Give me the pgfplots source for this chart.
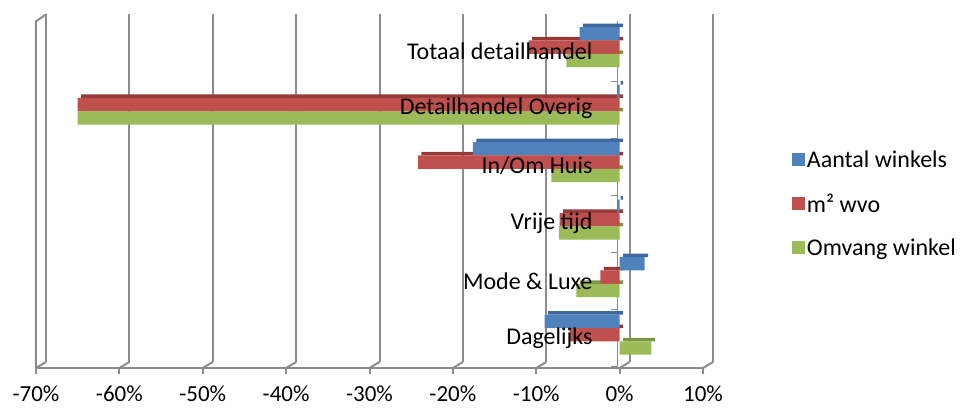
\documentclass[border=0pt]{standalone}
\usepackage{pgfplots}
\pgfplotsset{compat=1.18}
\usepackage{fontspec}
\setmainfont{Carlito}
\usetikzlibrary{calc}

\definecolor{cblue}{RGB}{79,129,189}
\definecolor{cred}{RGB}{192,80,77}
\definecolor{cgreen}{RGB}{155,187,89}
\definecolor{cbluetop}{RGB}{62,104,158}
\definecolor{credtop}{RGB}{150,58,56}
\definecolor{cgreentop}{RGB}{122,150,66}
\definecolor{gridgray}{RGB}{140,140,140}

\tikzset{
  catlab/.style={anchor=east, inner sep=0pt, font=\fontsize{24}{28}\selectfont},
  ticklab/.style={anchor=north, inner sep=0pt, font=\fontsize{23}{27}\selectfont},
}

\begin{document}
\begin{tikzpicture}
\begin{axis}[
  scale only axis,
  width=667pt, height=349.6pt,
  xmin=-70, xmax=10, ymin=-0.58, ymax=5.5,
  xbar, bar width=13.3pt,
  axis line style={draw=none},
  clip=false,
  xtick=\empty, ytick=\empty,
  legend style={at={(1.133,0.47)}, anchor=west, draw=none, fill=none,
    inner sep=0pt, font=\fontsize{24}{28}\selectfont, row sep=21pt},
  legend cell align=left,
  legend image code/.code={\fill[#1] (0pt,-6.5pt) rectangle (13pt,6.5pt);},
]
\coordinate (bl) at (rel axis cs:0,0);
% back wall grid and floor (3D look), value labels below
\pgfplotsinvokeforeach{-70,-60,...,10}{
  \draw[gridgray, line width=2pt] ([shift={(10pt,6pt)}]axis cs:#1,-0.58) -- ([shift={(10pt,4pt)}]axis cs:#1,5.5);
  \draw[gridgray, line width=2pt] (axis cs:#1,-0.58) -- ([shift={(10pt,6pt)}]axis cs:#1,-0.58);
  \draw[gridgray, line width=2pt] (axis cs:#1,-0.58) -- ([shift={(0pt,-6pt)}]axis cs:#1,-0.58);
  \node[ticklab] at ([yshift=-18pt]axis cs:#1,-0.58) {#1\%};
}
\draw[gridgray, line width=2pt] (axis cs:-70,-0.58) -- (axis cs:10,-0.58);
\draw[gridgray, line width=2pt] (axis cs:-70,-0.58) -- ([shift={(0pt,-3pt)}]axis cs:-70,5.5) -- ([shift={(10pt,4pt)}]axis cs:-70,5.5);
% category axis at 0 with its ticks
\draw[gridgray, line width=1.5pt] ([xshift=-2pt]axis cs:0,-0.58) -- ([xshift=-2pt]axis cs:0,5.45);
\pgfplotsinvokeforeach{-0.55,0.44,1.43,2.42,3.41,4.40,5.39}{
  \draw[gridgray, line width=1.5pt] ([xshift=-2pt]axis cs:0,#1) -- ([xshift=-9pt]axis cs:0,#1);
}

% top faces of the bars
\addplot[forget plot, draw=none, fill=cgreentop, bar width=3.5pt, bar shift=-4.9pt, xshift=3.5pt]
  coordinates {(3.8,0) (-5.2,1) (-7.3,2) (-8.2,3) (-65,4) (-6.4,5)};
\addplot[forget plot, draw=none, fill=credtop, bar width=3.5pt, bar shift=8.4pt, xshift=3.5pt]
  coordinates {(-6,0) (-2.3,1) (-7.2,2) (-24.2,3) (-65,4) (-10.9,5)};
\addplot[forget plot, draw=none, fill=cbluetop, bar width=3.5pt, bar shift=21.7pt, xshift=3.5pt]
  coordinates {(-9,0) (3.0,1) (-0.3,2) (-17.6,3) (-0.3,4) (-4.8,5)};

% front faces
\addplot[draw=none, fill=cblue, bar shift=13.3pt]
  coordinates {(-9,0) (3.0,1) (-0.3,2) (-17.6,3) (-0.3,4) (-4.8,5)};
\addlegendentry{Aantal winkels}
\addplot[draw=none, fill=cred, bar shift=0pt]
  coordinates {(-6,0) (-2.3,1) (-7.2,2) (-24.2,3) (-65,4) (-10.9,5)};
\addlegendentry{m² wvo}
\addplot[draw=none, fill=cgreen, bar shift=-13.3pt]
  coordinates {(3.8,0) (-5.2,1) (-7.3,2) (-8.2,3) (-65,4) (-6.4,5)};
\addlegendentry{Omvang winkel}

% category names, set over the bars next to the 0 axis
\node[catlab] at ([shift={(-27pt,-4pt)}]axis cs:0,0) {Dagelijks};
\node[catlab] at ([shift={(-27pt,-4pt)}]axis cs:0,1) {Mode \& Luxe};
\node[catlab] at ([shift={(-27pt,-4pt)}]axis cs:0,2) {Vrije tijd};
\node[catlab] at ([shift={(-27pt,-4pt)}]axis cs:0,3) {In/Om Huis};
\node[catlab] at ([shift={(-27pt,-4pt)}]axis cs:0,4) {Detailhandel Overig};
\node[catlab] at ([shift={(-27pt,-4pt)}]axis cs:0,5) {Totaal detailhandel};
\end{axis}
\pgfresetboundingbox
\path[use as bounding box] ($(bl)+(-36pt,-39pt)$) rectangle ++(960pt,407pt);
\end{tikzpicture}
\end{document}
